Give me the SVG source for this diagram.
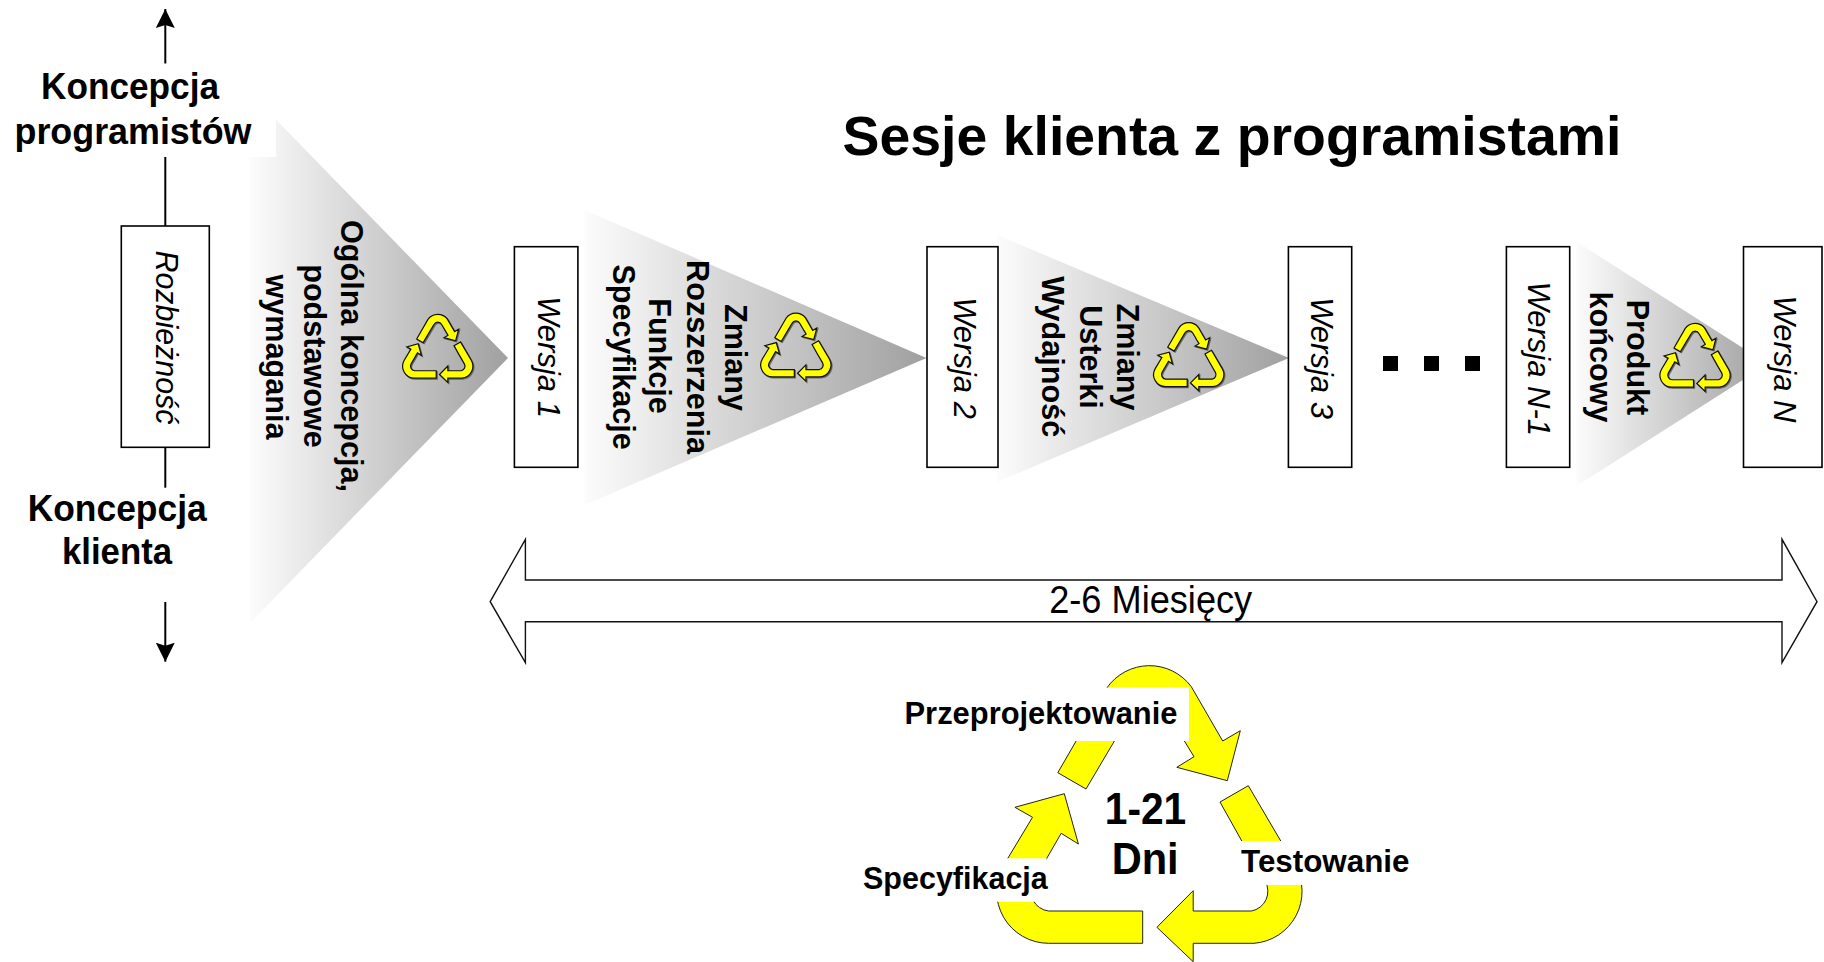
<svg xmlns="http://www.w3.org/2000/svg" xmlns:xlink="http://www.w3.org/1999/xlink" width="1824" height="962" viewBox="0 0 1824 962">
<style>
text{font-family:"Liberation Sans",Arial,sans-serif;fill:#000;text-anchor:middle}
.b{font-weight:bold}
.l{font-weight:bold;font-size:36px}
.r{font-weight:bold;font-size:30.6px}
.c{font-weight:bold;font-size:31.5px}
.v{font-style:italic;font-size:31px}
.box{fill:#fff;stroke:#000;stroke-width:1.6}
.tri{fill:url(#fade)}
.ln{stroke:#000;stroke-width:2;fill:none}
.mini{fill:#ff0;stroke:#111;stroke-width:1.2}
.shadow{fill:#666;stroke:#666;stroke-width:1.2}
.big{fill:#ff0;stroke:#222;stroke-width:1}
</style>
<defs>
<linearGradient id="fade" x1="0" x2="1" y1="0" y2="0"><stop offset="0" stop-color="#fcfcfc"/><stop offset="1" stop-color="#a0a0a0"/></linearGradient>
<marker id="head" markerUnits="userSpaceOnUse" markerWidth="20" markerHeight="20" refX="19" refY="10" orient="auto"><path d="M0,0.5L19,10L0,19.5L3,10Z" fill="#000"/></marker>
<g id="recycle">
<path vector-effect="non-scaling-stroke" d="M1057.8,772.7L1086,789L1114.4,741L1132.9,709.7A19,19 0 0 1 1166.3,709.7L1184.4,741L1194,756.7L1176.8,767.3L1227.3,780.7L1240.3,730.7L1222.7,741L1191.3,686.7A52,52 0 0 0 1106.8,688Z"/>
<path vector-effect="non-scaling-stroke" d="M1248.3,785.7L1220,802L1241.8,841L1265,881A20,20 0 0 1 1251.4,911L1193.2,911L1193.2,890.7L1156.9,927.3L1193.2,961.7L1193.2,943.3L1254,943.3A52,52 0 0 0 1295,865.3Z"/>
<path vector-effect="non-scaling-stroke" d="M1142.7,911L1142.7,943.3L1048.6,943.3A52,52 0 0 1 1003.6,865.3L1032.5,817.3L1014.9,807.3L1064.3,793.7L1078.4,844L1061.2,833.3L1033.5,881.3A20,20 0 0 0 1048.6,911Z"/>
</g>
</defs>
<rect width="1824" height="962" fill="#fff"/>

<g id="connectors">
<line class="ln" x1="165.3" y1="63.5" x2="165.3" y2="9" marker-end="url(#head)"/>
<line class="ln" x1="165.3" y1="157" x2="165.3" y2="226"/>
<line class="ln" x1="165.3" y1="447" x2="165.3" y2="487.7"/>
<line class="ln" x1="165.3" y1="602" x2="165.3" y2="661.7" marker-end="url(#head)"/>
</g>

<g id="phase-1">
<path class="tri" d="M250,93L508,358L250,623Z"/>
<rect x="10" y="66" width="266" height="91" fill="#fff"/>
<text class="r" transform="translate(340.5,356) rotate(90)">Ogólna koncepcja,</text>
<text class="r" transform="translate(303.5,356) rotate(90)">podstawowe</text>
<text class="r" transform="translate(265.5,357) rotate(90)">wymagania</text>
<use xlink:href="#recycle" class="shadow" transform="translate(174.4,162.2) scale(0.23)"/>
<use xlink:href="#recycle" class="mini" transform="translate(173.4,161.2) scale(0.23)"/>
</g>
<g id="phase-2">
<path class="tri" d="M584.5,210L926.5,358L584.5,505Z"/>
<text class="r" transform="translate(724.5,357.5) rotate(90)">Zmiany</text>
<text class="r" transform="translate(687.3,357) rotate(90)">Rozszerzenia</text>
<text class="r" transform="translate(648.5,356) rotate(90)">Funkcje</text>
<text class="r" transform="translate(612.5,357) rotate(90)">Specyfikacje</text>
<use xlink:href="#recycle" class="shadow" transform="translate(532.5,161) scale(0.23)"/>
<use xlink:href="#recycle" class="mini" transform="translate(531.5,160) scale(0.23)"/>
</g>
<g id="phase-3">
<path class="tri" d="M997,235L1289,358L997,482Z"/>
<text class="r" transform="translate(1117.3,357) rotate(90)">Zmiany</text>
<text class="r" transform="translate(1080.2,357) rotate(90)">Usterki</text>
<text class="r" transform="translate(1042.2,356.7) rotate(90)">Wydajność</text>
<use xlink:href="#recycle" class="shadow" transform="translate(925.4,170.6) scale(0.23)"/>
<use xlink:href="#recycle" class="mini" transform="translate(924.4,169.6) scale(0.23)"/>
</g>
<g id="phase-4">
<path class="tri" d="M1576.5,241.7L1768,364L1576.5,486Z"/>
<text class="r" transform="translate(1626.5,357.5) rotate(90)">Produkt</text>
<text class="r" transform="translate(1589.5,357) rotate(90)">końcowy</text>
<use xlink:href="#recycle" class="shadow" transform="translate(1431.7,171.2) scale(0.23)"/>
<use xlink:href="#recycle" class="mini" transform="translate(1430.7,170.2) scale(0.23)"/>
</g>

<g id="label-programisci">
<text class="l" x="130" y="99" textLength="178" lengthAdjust="spacingAndGlyphs">Koncepcja</text>
<text class="l" x="133" y="143.5" textLength="237" lengthAdjust="spacingAndGlyphs">programistów</text>
</g>
<g id="label-klient">
<text class="l" x="117.2" y="521" textLength="179" lengthAdjust="spacingAndGlyphs">Koncepcja</text>
<text class="l" x="117" y="564.3" textLength="110" lengthAdjust="spacingAndGlyphs">klienta</text>
</g>
<g id="title">
<text class="b" x="1232" y="154.7" font-size="55.4">Sesje klienta z programistami</text>
</g>

<g id="rozbieznosc">
<rect class="box" x="121.3" y="226" width="88" height="221.3"/>
<text class="v" transform="translate(156,337.5) rotate(90)" textLength="174" lengthAdjust="spacingAndGlyphs">Rozbieżność</text>
</g>
<g id="wersja-1">
<rect class="box" x="514.4" y="246.7" width="63.5" height="220.6"/>
<text class="v" transform="translate(537.5,357) rotate(90)">Wersja 1</text>
</g>
<g id="wersja-2">
<rect class="box" x="927" y="246.7" width="71" height="220.6"/>
<text class="v" transform="translate(954.2,358) rotate(90)">Wersja 2</text>
</g>
<g id="wersja-3">
<rect class="box" x="1288.4" y="246.7" width="63.3" height="220.6"/>
<text class="v" transform="translate(1310.5,358) rotate(90)">Wersja 3</text>
</g>
<g id="dots">
<rect x="1383" y="356" width="15" height="15"/>
<rect x="1424" y="356" width="15" height="15"/>
<rect x="1465" y="356" width="15" height="15"/>
</g>
<g id="wersja-n-1">
<rect class="box" x="1506.4" y="246.7" width="63.3" height="220.6"/>
<text class="v" transform="translate(1528,358.8) rotate(90)">Wersja N-1</text>
</g>
<g id="wersja-n">
<rect class="box" x="1743.5" y="246.7" width="78.5" height="220.6"/>
<text class="v" transform="translate(1774.1,359) rotate(90)">Wersja N</text>
</g>

<g id="czas">
<path d="M490.2,601.7L525.4,539.3L525.4,580L1782,580L1782,539.3L1817,601.7L1782,662.7L1782,621.7L525.4,621.7L525.4,662.7Z" fill="#fff" stroke="#111" stroke-width="1.4"/>
<text x="1150.7" y="613.2" font-size="38" textLength="203" lengthAdjust="spacingAndGlyphs">2-6 Miesięcy</text>
</g>

<g id="cykl">
<use xlink:href="#recycle" class="big"/>
<rect x="900" y="687.7" width="289" height="53.3" fill="#fff"/>
<rect x="1240.7" y="841" width="172" height="44" fill="#fff"/>
<rect x="863" y="858.3" width="183.7" height="43.4" fill="#fff"/>
<text class="c" x="1041" y="724.3" textLength="273" lengthAdjust="spacingAndGlyphs">Przeprojektowanie</text>
<text class="c" x="1325.3" y="872.2" textLength="168.5" lengthAdjust="spacingAndGlyphs">Testowanie</text>
<text class="c" x="955.4" y="888.8" textLength="184.8" lengthAdjust="spacingAndGlyphs">Specyfikacja</text>
<text class="b" x="1145.5" y="824.2" font-size="44" textLength="81.5" lengthAdjust="spacingAndGlyphs">1-21</text>
<text class="b" x="1145.2" y="874" font-size="44" textLength="67" lengthAdjust="spacingAndGlyphs">Dni</text>
</g>
</svg>
